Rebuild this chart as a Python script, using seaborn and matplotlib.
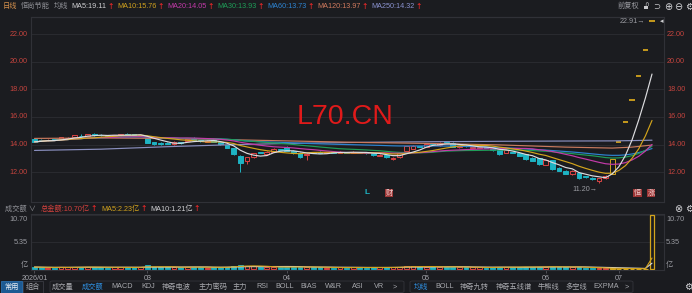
import numpy as np
import pandas as pd
import matplotlib
matplotlib.use("Agg")
import matplotlib.pyplot as plt
import matplotlib.transforms as mtrans
from matplotlib.patches import Rectangle, FancyBboxPatch
import seaborn as sns

# ---------------- data ----------------
opens = [14.38, 14.35, 14.30, 14.38, 14.42, 14.45, 14.53, 14.65, 14.62, 14.80,
         14.72, 14.65, 14.60, 14.66, 14.80, 14.74, 14.66, 14.46, 14.19, 14.14,
         14.15, 14.08, 14.18, 14.28, 14.42, 14.32, 14.20, 14.30, 14.20, 13.97,
         13.73, 13.20, 12.84, 13.08, 13.45, 13.30, 13.50, 13.68, 13.85, 13.56,
         13.42, 13.25, 13.45, 13.48, 13.40, 13.45, 13.42, 13.46, 13.42, 13.45,
         13.42, 13.40, 13.20, 13.23, 12.95, 13.08, 13.56, 13.70, 13.90, 13.85,
         14.10, 13.95, 14.20, 14.14, 13.82, 13.92, 13.75, 13.76, 13.80, 13.70,
         13.60, 13.40, 13.45, 13.37, 13.30, 13.05, 13.00, 12.55, 12.88, 12.33,
         12.10, 11.85, 11.97, 11.73, 11.60, 11.35, 11.55, 11.90, 14.22, 15.64,
         17.21, 18.93, 20.83, 22.91]
closes = [14.20, 14.28, 14.36, 14.33, 14.52, 14.50, 14.68, 14.60, 14.77, 14.68,
          14.68, 14.58, 14.70, 14.76, 14.72, 14.68, 14.70, 14.14, 14.05, 14.08,
          14.08, 14.16, 14.10, 14.40, 14.35, 14.25, 14.28, 14.20, 14.02, 13.75,
          13.30, 12.70, 13.08, 13.37, 13.40, 13.50, 13.70, 13.63, 13.56, 13.37,
          13.13, 13.30, 13.40, 13.42, 13.46, 13.41, 13.48, 13.42, 13.48, 13.42,
          13.38, 13.23, 13.28, 13.08, 13.05, 13.37, 13.90, 13.90, 13.83, 14.05,
          14.05, 14.14, 14.15, 13.85, 13.87, 13.88, 13.80, 13.82, 13.76, 13.60,
          13.32, 13.60, 13.40, 13.20, 12.94, 12.85, 12.60, 12.88, 12.25, 12.12,
          11.88, 12.10, 11.55, 11.66, 11.52, 11.55, 11.75, 12.93, 14.22, 15.64,
          17.21, 18.93, 20.83, 22.91]
highs = [14.42, 14.38, 14.40, 14.41, 14.55, 14.54, 14.70, 14.80, 14.80, 14.83,
         14.75, 14.68, 14.72, 14.78, 14.84, 14.77, 14.73, 14.48, 14.20, 14.17,
         14.18, 14.25, 14.20, 14.43, 14.55, 14.35, 14.31, 14.32, 14.22, 14.00,
         13.75, 13.22, 13.12, 13.40, 13.48, 13.53, 13.72, 13.71, 13.90, 13.58,
         13.44, 13.40, 13.48, 13.52, 13.50, 13.48, 13.52, 13.49, 13.52, 13.48,
         13.45, 13.42, 13.31, 13.26, 13.08, 13.40, 13.93, 13.95, 13.93, 14.08,
         14.15, 14.18, 14.28, 14.16, 13.92, 13.95, 13.83, 13.85, 13.83, 13.72,
         13.62, 13.66, 13.48, 13.40, 13.32, 13.08, 13.04, 12.92, 12.90, 12.36,
         12.14, 12.14, 12.00, 11.76, 11.63, 11.58, 11.78, 12.93, 14.22, 15.64,
         17.21, 18.93, 20.83, 22.91]
lows = [14.16, 14.24, 14.27, 14.30, 14.40, 14.42, 14.50, 14.56, 14.60, 14.65,
        14.64, 14.55, 14.57, 14.63, 14.70, 14.65, 14.62, 14.10, 13.96, 13.98,
        14.02, 13.95, 14.06, 14.25, 14.32, 14.22, 14.17, 14.17, 13.98, 13.72,
        13.25, 12.05, 12.60, 13.05, 13.36, 13.28, 13.47, 13.60, 13.54, 13.34,
        13.05, 12.89, 13.36, 13.38, 13.37, 13.38, 13.39, 13.40, 13.39, 13.38,
        13.35, 13.20, 13.15, 13.05, 12.92, 13.05, 13.52, 13.68, 13.80, 13.82,
        14.00, 13.92, 14.12, 13.82, 13.78, 13.84, 13.72, 13.73, 13.72, 13.56,
        13.28, 13.37, 13.36, 13.17, 12.90, 12.80, 12.56, 12.50, 12.20, 12.08,
        11.84, 11.82, 11.50, 11.62, 11.46, 11.20, 11.50, 11.88, 14.22, 15.64,
        17.21, 18.93, 20.83, 22.91]
volumes = [0.45, 0.38, 0.35, 0.33, 0.42, 0.38, 0.46, 0.44, 0.48, 0.42,
           0.36, 0.34, 0.38, 0.41, 0.40, 0.36, 0.38, 0.80, 0.52, 0.42,
           0.38, 0.40, 0.36, 0.52, 0.47, 0.38, 0.34, 0.36, 0.42, 0.52,
           0.70, 0.90, 0.66, 0.56, 0.42, 0.45, 0.49, 0.38, 0.47, 0.45,
           0.52, 0.47, 0.38, 0.36, 0.34, 0.33, 0.36, 0.34, 0.38, 0.36,
           0.34, 0.40, 0.36, 0.38, 0.40, 0.47, 0.72, 0.57, 0.45, 0.52,
           0.47, 0.49, 0.45, 0.52, 0.40, 0.38, 0.36, 0.38, 0.34, 0.40,
           0.52, 0.47, 0.38, 0.42, 0.52, 0.45, 0.52, 0.47, 0.55, 0.42,
           0.45, 0.42, 0.50, 0.30, 0.20, 0.22, 0.18, 0.22, 0.12, 0.11,
           0.11, 0.12, 0.12, 10.70]
highlight_start = 87          # resumption days drawn in yellow
low_mark_index = 85           # "11.20" lowest point
low_mark_text = "11.20→"
high_mark_text = "22.91→"

month_ticks = [0, 17, 38, 59, 77, 88]
month_labels = ["2026/01", "03", "04", "05", "06", "07"]

# long moving averages, read at sample points from the picture
ma_knots = [0, 10, 20, 30, 40, 50, 60, 70, 80, 87, 90, 93]
ma120_vals = [14.45, 14.48, 14.45, 14.35, 14.25, 14.15, 14.08, 13.98, 13.82, 13.75, 13.82, 13.97]
ma250_vals = [13.58, 13.67, 13.85, 14.00, 14.10, 14.17, 14.21, 14.24, 14.26, 14.27, 14.29, 14.32]

price_ticks = [12, 14, 16, 18, 20, 22]
price_tick_labels = ["12.00", "14.00", "16.00", "18.00", "20.00", "22.00"]
vol_grid = [5.35, 10.70]
vol_tick_labels = ["10.70", "5.35", "亿"]

header_items = [("日线", 3, '#d38f4c', False), ("恒尚节能", 21, '#8e8f95', False),
                ("均线", 52, '#8e8f95', False),
                ("MA5:19.11", 69, '#cfcfd2', True), ("MA10:15.76", 112, '#d2a21e', True),
                ("MA20:14.05", 158, '#c43aa9', True), ("MA30:13.93", 204, '#1f9d58', True),
                ("MA60:13.73", 251, '#2d84d2', True), ("MA120:13.97", 298, '#d07a5e', True),
                ("MA250:14.32", 347, '#8a92cf', True)]
vol_header = [("成交额 ∨", 5, '#8e8f95', False), ("总金额:10.70亿", 41, '#d2413d', True),
              ("MA5:2.23亿", 95, '#d2a21e', True), ("MA10:1.21亿", 140, '#cfcfd2', True)]
toolbar_left = [("成交量", 62.5), ("成交额", 92.5), ("MACD", 122.5), ("KDJ", 148.5),
                ("神奇电波", 176.7), ("主力密码", 213), ("主力", 239.5), ("RSI", 262),
                ("BOLL", 285), ("BIAS", 308.5), ("W&R", 333), ("ASI", 357.5),
                ("VR", 379), (">", 395)]
toolbar_right = [("均线", 421), ("BOLL", 445), ("神奇九转", 474.5), ("神奇五线谱", 513.5),
                 ("牛熊线", 548.5), ("多空线", 576.5), ("EXPMA", 606.5), (">", 627)]
active_tools = ["成交额", "均线"]

# ---------------- style ----------------
BG = '#1b1c20'
GRID = '#292a2f'
BORDER = '#303137'
RED = '#dc4444'
TEAL = '#1eb3c3'
YEL = '#d3a41c'
AXRED = '#c5443e'
GRAY = '#9a9ba1'
FAM = ['Liberation Sans', 'Noto Sans CJK SC', 'DejaVu Sans']
FS = 5.2

sns.set_theme(style="dark", rc={"axes.facecolor": BG, "figure.facecolor": BG,
                                "axes.edgecolor": BORDER, "axes.grid": False})
plt.rcParams['font.family'] = FAM
plt.rcParams['axes.linewidth'] = 0.8

W, H = 692, 293
fig = plt.figure(figsize=(W / 100, H / 100), dpi=100, facecolor=BG)
renderer = fig.canvas.get_renderer()

def fx(p):
    return p / W

def fy(p):
    return 1 - p / H

def header_row(items, yp):
    """Place items at their reference x, but never closer than 3 px to the previous one."""
    prev_end = -1e9
    for txt, xp, col, arrow in items:
        x0 = max(xp, prev_end + 3.5)
        t = fig.text(fx(x0), fy(yp), txt, ha='left', va='center', fontsize=FS, color=col)
        bb = t.get_window_extent(renderer=renderer)
        prev_end = bb.x1
        if arrow:
            a = fig.text(fx(bb.x1 + 0.8), fy(yp - 0.3), "↑", ha='left', va='center', fontsize=5.6,
                         color='#ff2a2a', family='DejaVu Sans')
            prev_end = a.get_window_extent(renderer=renderer).x1

XL, XR = 30.7, 663.5
ax = fig.add_axes([fx(XL), fy(202), (XR - XL) / W, (202 - 17) / H])
axv = fig.add_axes([fx(XL), fy(270), (XR - XL) / W, (270 - 214) / H])
for a in (ax, axv):
    a.set_facecolor(BG)
    for sp in a.spines.values():
        sp.set_color(BORDER)
        sp.set_linewidth(0.8)

N = len(closes)
idx = np.arange(N)
o = np.array(opens); c = np.array(closes); h = np.array(highs); l = np.array(lows)
v = np.array(volumes)

# ---------------- price panel ----------------
for t in price_ticks:
    ax.axhline(t, color=GRID, lw=0.8, zorder=0)

kind = np.where(idx >= highlight_start, 'y', np.where(c >= o, 'r', 't'))
colmap = {'y': YEL, 'r': RED, 't': TEAL}
flat = np.abs(c - o) < 0.005
top = np.maximum(o, c); bot = np.minimum(o, c)
for k in ['t', 'r', 'y']:
    m = (kind == k) & ~flat
    col = colmap[k]
    hollow = k != 't'
    ax.vlines(idx[m], top[m], h[m], color=col, lw=0.7, zorder=3)
    ax.vlines(idx[m], l[m], bot[m], color=col, lw=0.7, zorder=3)
    ax.bar(idx[m], (top - bot)[m], bottom=bot[m], width=0.72,
           facecolor=BG if hollow else col, edgecolor=col, linewidth=0.7, zorder=3)
ax.hlines(c[flat], idx[flat] - 0.4, idx[flat] + 0.4, color=YEL, lw=1.3, zorder=4)

s = pd.Series(closes)
ma_df = pd.DataFrame({'idx': idx,
                      'MA30': s.rolling(30, min_periods=1).mean(),
                      'MA60': s.rolling(60, min_periods=1).mean(),
                      'MA20': s.rolling(20, min_periods=1).mean(),
                      'MA10': s.rolling(10, min_periods=1).mean(),
                      'MA5': s.rolling(5, min_periods=1).mean()})
long_df = ma_df.melt('idx', var_name='ma', value_name='v')
knot_df = pd.concat([pd.DataFrame({'idx': ma_knots, 'ma': 'MA250', 'v': ma250_vals}),
                     pd.DataFrame({'idx': ma_knots, 'ma': 'MA120', 'v': ma120_vals})])
all_ma = pd.concat([knot_df, long_df], ignore_index=True)
ma_order = ['MA250', 'MA120', 'MA60', 'MA30', 'MA20', 'MA10', 'MA5']
ma_pal = {'MA5': '#dcdcdf', 'MA10': '#d3a41c', 'MA20': '#c43aa9', 'MA30': '#1f9d58',
          'MA60': '#2d84d2', 'MA120': '#c97a5e', 'MA250': '#8a8fbf'}
sns.lineplot(data=all_ma, x='idx', y='v', hue='ma', hue_order=ma_order, palette=ma_pal,
             linewidth=0.85, legend=False, ax=ax, zorder=5, sort=True)
ax.set_xlabel(''); ax.set_ylabel('')
ax.set_xlim(-0.57, 94.73)
ax.set_ylim(9.85, 23.23)
ax.set_xticks([]); ax.set_yticks([])

tr_l = mtrans.blended_transform_factory(fig.transFigure, ax.transData)
for t, lab in zip(price_ticks, price_tick_labels):
    fig.text(fx(28), t, lab, transform=tr_l, ha='right', va='center', fontsize=FS, color=AXRED)
    fig.text(fx(667), t, lab, transform=tr_l, ha='left', va='center', fontsize=FS, color=AXRED)

# annotations in the price panel
ax.text(low_mark_index - 0.3, lows[low_mark_index] - 0.45, low_mark_text, ha='right', va='center',
        fontsize=FS, color=GRAY)
ax.text(N - 1 - 1.0, highs[-1], high_mark_text, ha='right', va='center', fontsize=FS, color=GRAY)
fig.text(fx(662), fy(21), "◂", ha='center', va='center', fontsize=5, color='#cfcfd2', family='DejaVu Sans')
fig.text(fx(345), fy(117), "L70.CN", ha='center', va='center', fontsize=20.5, color='#e01a1a',
         family='Liberation Sans')
fig.text(fx(367), fy(192), "L", ha='center', va='center', fontsize=6, color=TEAL, fontweight='bold')
for ch, xp in [("财", 389), ("恒", 637.5), ("涨", 651)]:
    fig.text(fx(xp), fy(193), ch, ha='center', va='center', fontsize=5.2, color='#f1d0d0',
             bbox=dict(boxstyle='square,pad=0.12', fc='#9c3535', ec='none'))

# ---------------- volume panel ----------------
for g in vol_grid:
    axv.axhline(g, color=GRID, lw=0.8, zorder=0)
for k in ['t', 'r', 'y']:
    m = kind == k
    col = colmap[k]
    if k == 't':
        axv.bar(idx[m], v[m], width=0.72, color=col, edgecolor=col, linewidth=0.6, zorder=3)
    elif k == 'r':
        axv.bar(idx[m], v[m], width=0.72, facecolor=BG, edgecolor=col, linewidth=0.7, zorder=3)
    else:
        mf = m & flat & (idx != N - 1)
        axv.bar(idx[mf], v[mf], width=0.72, color=col, edgecolor=col, linewidth=0.8, zorder=3)
        mh = m & (~flat | (idx == N - 1))
        axv.bar(idx[mh], v[mh], width=0.72, facecolor=BG, edgecolor=col, linewidth=0.9, zorder=3)
vs = pd.Series(volumes)
vdf = pd.DataFrame({'idx': idx, 'MA10': vs.rolling(10, min_periods=1).mean(),
                    'MA5': vs.rolling(5, min_periods=1).mean()}).melt('idx', var_name='ma', value_name='v')
sns.lineplot(data=vdf, x='idx', y='v', hue='ma', hue_order=['MA10', 'MA5'],
             palette={'MA5': '#d3a41c', 'MA10': '#dcdcdf'}, linewidth=0.8, legend=False,
             ax=axv, zorder=4)
axv.set_xlabel(''); axv.set_ylabel('')
axv.set_xlim(-0.57, 94.73)
axv.set_ylim(-0.14, 10.96)
axv.set_yticks([])
axv.set_xticks(month_ticks)
axv.set_xticklabels(month_labels)
axv.tick_params(axis='x', length=2, width=0.6, color='#55565c', pad=1.5, labelsize=FS,
                labelcolor='#a3a4aa', bottom=True)

for lab, yp in zip(vol_tick_labels, [219.3, 242.5, 265]):
    fig.text(fx(28), fy(yp), lab, ha='right', va='center', fontsize=FS, color=GRAY)
    fig.text(fx(666), fy(yp), lab, ha='left', va='center', fontsize=FS, color=GRAY)

# ---------------- headers ----------------
header_row(header_items, 6.5)
fig.text(fx(618), fy(6.5), "前复权", ha='left', va='center', fontsize=FS, color=GRAY)
fig.patches.append(Rectangle((fx(643.5), fy(9)), 4 / W, 3.5 / H, transform=fig.transFigure,
                             fc='#c8c8cc', ec='none'))
fig.text(fx(646.5), fy(5), "∩", ha='center', va='center', fontsize=4.5, color='#c8c8cc', family='DejaVu Sans')
fig.text(fx(657), fy(6.5), "⊃", ha='center', va='center', fontsize=6, color='#c8c8cc', family='DejaVu Sans')
for sym, xp in [("⊕", 668), ("⊖", 678), ("⚙", 689)]:
    fig.text(fx(xp), fy(6.5), sym, ha='center', va='center', fontsize=7, color='#d6d6da', family='DejaVu Sans')
fig.lines.append(plt.Line2D([fx(XL), fx(XR)], [fy(16.7), fy(16.7)], transform=fig.transFigure,
                            color=BORDER, lw=0.8))

header_row(vol_header, 209)
for sym, xp in [("⊗", 678), ("⚙", 689)]:
    fig.text(fx(xp), fy(208.5), sym, ha='center', va='center', fontsize=7, color='#d6d6da', family='DejaVu Sans')

# ---------------- toolbar ----------------
fig.patches.append(Rectangle((0, 0), 1, fy(279.5), transform=fig.transFigure, fc='#1a1b1f', ec='none', zorder=0))
fig.patches.append(Rectangle((fx(1), fy(293)), 21 / W, 12 / H, transform=fig.transFigure,
                             fc='#1d5a92', ec='#2a6fae', lw=0.6))
fig.patches.append(Rectangle((fx(22.5), fy(293)), 21 / W, 12 / H, transform=fig.transFigure,
                             fc=BG, ec='#3a3b42', lw=0.6))
for x0, x1 in [(50, 404), (410, 633)]:
    fig.patches.append(FancyBboxPatch((fx(x0), fy(292.5)), (x1 - x0) / W, 11.5 / H,
                                      boxstyle='round,pad=0,rounding_size=0.004',
                                      transform=fig.transFigure, fc=BG, ec='#34353b', lw=0.6))
fig.text(fx(11.5), fy(287), "常用", ha='center', va='center', fontsize=FS, color='#e8eef5')
fig.text(fx(33), fy(287), "组合", ha='center', va='center', fontsize=FS, color='#a8a9ae')
for txt, xp in toolbar_left + toolbar_right:
    col = '#2f8fe0' if txt in active_tools else '#a8a9ae'
    fig.text(fx(xp), fy(287), txt, ha='center', va='center', fontsize=FS, color=col)
fig.text(fx(688), fy(287), "⚙", ha='center', va='center', fontsize=7, color='#d6d6da', family='DejaVu Sans')

fig.savefig("out.png", dpi=100, facecolor=BG)
